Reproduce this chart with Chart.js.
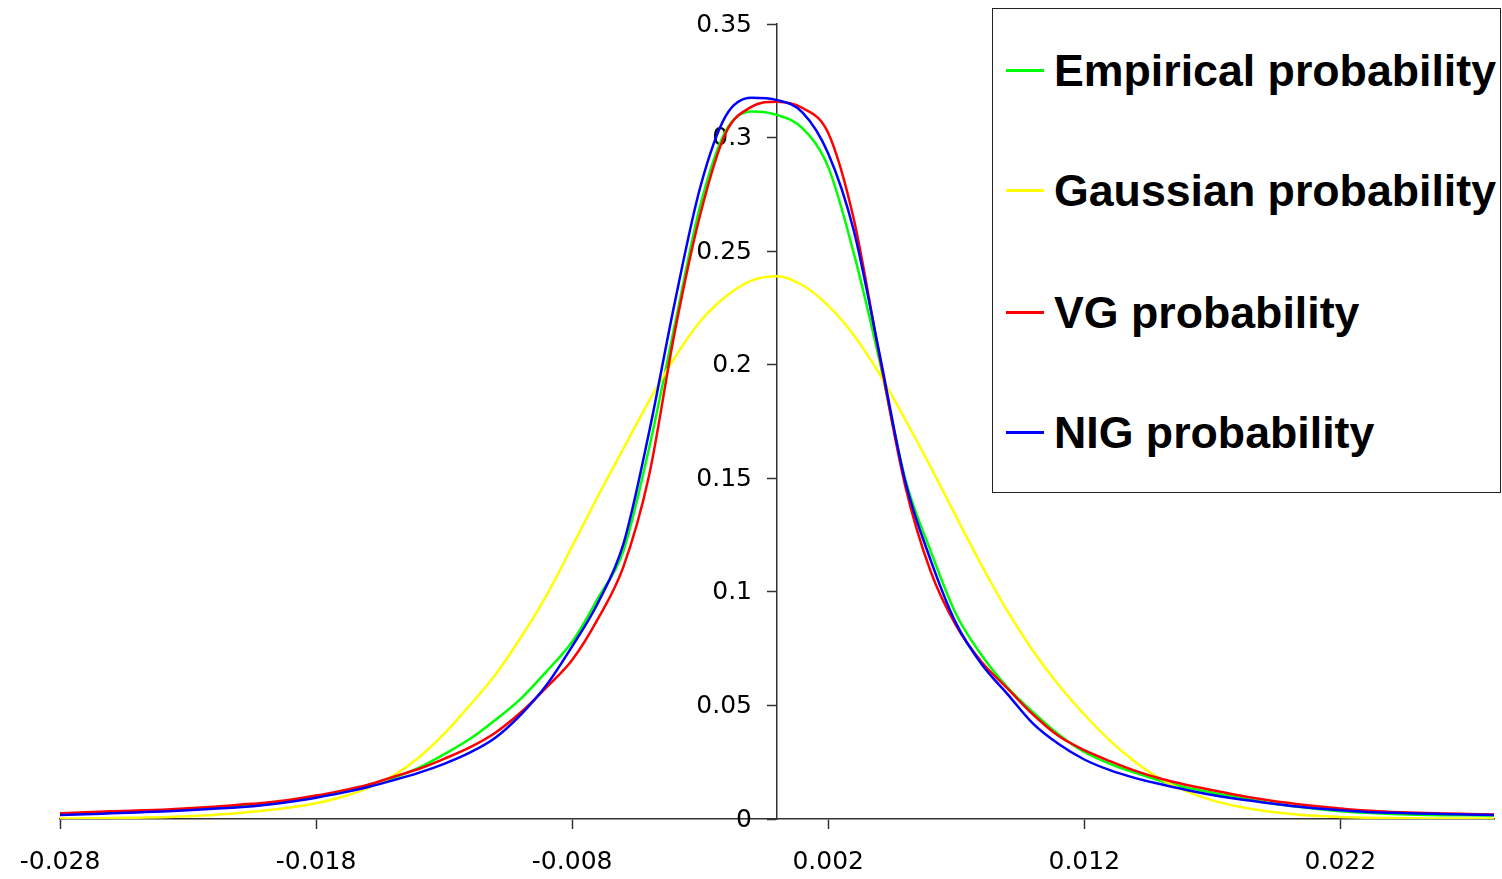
<!DOCTYPE html>
<html lang="en">
<head>
    <meta charset="UTF-8">
    <title>Probability densities</title>
    <script src="https://cdn.jsdelivr.net/npm/chart.js@4.4.1/dist/chart.umd.min.js"></script>
    <style>
        html, body { margin: 0; padding: 0; background: #fff; }
        #wrap { position: relative; width: 1502px; height: 879px; }
        #legend {
            position: absolute; left: 992px; top: 8px; width: 507px; height: 483px;
            border: 1px solid #222; background: #fff; box-sizing: content-box;
        }
        #legend .swatch { position: absolute; left: 13px; width: 38px; height: 2.5px; }
        #legend .label {
            position: absolute; left: 61px; white-space: nowrap;
            font: bold 44.7px "Liberation Sans", Arial, sans-serif; line-height: 44px; color: #000;
        }
    </style>
</head>
<body>
<div id="wrap">
    <canvas id="chart"></canvas>
    <div id="legend"></div>
</div>
<script>
    // x grid (returns)
    const xValues = [
        -0.028, -0.027, -0.026, -0.025, -0.024, -0.023, -0.022, -0.021, -0.020, -0.019,
        -0.018, -0.017, -0.016, -0.015, -0.014, -0.013, -0.012, -0.011, -0.010, -0.009,
        -0.008, -0.007, -0.006, -0.005, -0.004, -0.003, -0.002, -0.001, 0.000, 0.001,
        0.002, 0.003, 0.004, 0.005, 0.006, 0.007, 0.008, 0.009, 0.010, 0.011,
        0.012, 0.013, 0.014, 0.015, 0.016, 0.017, 0.018, 0.019, 0.020, 0.021,
        0.022, 0.023, 0.024, 0.025, 0.026, 0.027, 0.028
    ];

    const empirical = [
        0.0020, 0.0025, 0.0030, 0.0033, 0.0037, 0.0042, 0.0050, 0.0057, 0.0067, 0.0080,
        0.0097, 0.0120, 0.0146, 0.0180, 0.0225, 0.0285, 0.0352, 0.0436, 0.0530, 0.0650,
        0.0780, 0.0970, 0.1180, 0.1630, 0.2170, 0.2700, 0.3030, 0.3115, 0.3100, 0.3040,
        0.2870, 0.2490, 0.2020, 0.1500, 0.1180, 0.0900, 0.0720, 0.0580, 0.0470, 0.0372,
        0.0295, 0.0243, 0.0203, 0.0167, 0.0138, 0.0116, 0.0095, 0.0075, 0.0058, 0.0045,
        0.0034, 0.0027, 0.0022, 0.0019, 0.0017, 0.0016, 0.0015
    ];

    const gaussian = [
        0.0002, 0.0003, 0.0004, 0.0006, 0.0008, 0.0012, 0.0018, 0.0026, 0.0037, 0.0051,
        0.0069, 0.0097, 0.0135, 0.0190, 0.0270, 0.0375, 0.0500, 0.0635, 0.0800, 0.0985,
        0.1200, 0.1420, 0.1630, 0.1840, 0.2030, 0.2190, 0.2300, 0.2370, 0.2390, 0.2350,
        0.2260, 0.2130, 0.1960, 0.1760, 0.1550, 0.1330, 0.1115, 0.0915, 0.0740, 0.0590,
        0.0460, 0.0345, 0.0250, 0.0175, 0.0122, 0.0082, 0.0055, 0.0036, 0.0023, 0.0014,
        0.0009, 0.0006, 0.0004, 0.0003, 0.0002, 0.0002, 0.0002
    ];

    const vg = [
        0.0025, 0.0030, 0.0034, 0.0037, 0.0041, 0.0047, 0.0054, 0.0063, 0.0072, 0.0085,
        0.0103, 0.0125, 0.0150, 0.0185, 0.0220, 0.0265, 0.0315, 0.0380, 0.0470, 0.0580,
        0.0700, 0.0880, 0.1110, 0.1510, 0.2140, 0.2660, 0.3020, 0.3135, 0.3158, 0.3130,
        0.3020, 0.2640, 0.2040, 0.1470, 0.1090, 0.0850, 0.0690, 0.0575, 0.0460, 0.0365,
        0.0303, 0.0255, 0.0212, 0.0177, 0.0150, 0.0127, 0.0105, 0.0086, 0.0070, 0.0057,
        0.0046, 0.0037, 0.0031, 0.0027, 0.0024, 0.0022, 0.0020
    ];

    const nig = [
        0.0018, 0.0021, 0.0025, 0.0029, 0.0033, 0.0038, 0.0045, 0.0052, 0.0062, 0.0076,
        0.0094, 0.0115, 0.0140, 0.0170, 0.0203, 0.0243, 0.0292, 0.0358, 0.0460, 0.0590,
        0.0760, 0.0950, 0.1210, 0.1700, 0.2270, 0.2780, 0.3095, 0.3175, 0.3165, 0.3110,
        0.2930, 0.2590, 0.2050, 0.1490, 0.1140, 0.0860, 0.0680, 0.0550, 0.0420, 0.0330,
        0.0262, 0.0215, 0.0180, 0.0153, 0.0128, 0.0106, 0.0088, 0.0073, 0.0058, 0.0047,
        0.0038, 0.0031, 0.0027, 0.0024, 0.0022, 0.0020, 0.0018
    ];

    const seriesNames = ['Empirical probability', 'Gaussian probability', 'VG probability', 'NIG probability'];
    const seriesColors = ['#00ff00', '#ffff00', '#ff0000', '#0000ff'];
    const seriesValues = [empirical, gaussian, vg, nig];

    const xTickValues = [-0.028, -0.018, -0.008, 0.002, 0.012, 0.022];
    const xTickLabels = ['-0.028', '-0.018', '-0.008', '0.002', '0.012', '0.022'];
    const yTickValues = [0, 0.05, 0.1, 0.15, 0.2, 0.25, 0.3, 0.35];
    const yTickLabels = ['0', '0.05', '0.1', '0.15', '0.2', '0.25', '0.3', '0.35'];

    const axisColor = '#333';
    const tickFont = { family: '"DejaVu Sans", sans-serif', size: 25 };

    // y labels sit left of the axis that crosses at x = 0, drawn under the curves
    const yLabelPlugin = {
        id: 'yLabels',
        beforeDatasetsDraw(chart) {
            const { ctx, scales } = chart;
            const x0 = scales.x.getPixelForValue(0);
            ctx.save();
            ctx.font = '25px "DejaVu Sans", sans-serif';
            ctx.fillStyle = '#000';
            ctx.textAlign = 'right';
            ctx.textBaseline = 'middle';
            yTickValues.forEach((v, i) => {
                ctx.fillText(yTickLabels[i], x0 - 25, scales.y.getPixelForValue(v) + 1);
            });
            ctx.restore();
        }
    };

    const datasets = seriesNames.map((name, i) => ({
        label: name,
        data: xValues.map((x, j) => ({ x: x, y: seriesValues[i][j] })),
        borderColor: seriesColors[i],
        backgroundColor: seriesColors[i],
        borderWidth: 2.5,
        pointRadius: 0,
        fill: false,
        cubicInterpolationMode: 'monotone',
        order: seriesNames.length - i
    }));

    new Chart(document.getElementById('chart'), {
        type: 'line',
        data: { datasets: datasets },
        options: {
            responsive: true,
            maintainAspectRatio: false,
            animation: false,
            layout: { padding: { left: 60, right: 8, top: 24, bottom: 0 } },
            plugins: {
                legend: { display: false },
                tooltip: { enabled: false }
            },
            scales: {
                x: {
                    type: 'linear',
                    min: -0.028,
                    max: 0.028,
                    afterBuildTicks: (scale) => {
                        scale.ticks = xTickValues.map(v => ({ value: v }));
                    },
                    afterFit: (scale) => { scale.height = 60; },
                    ticks: {
                        autoSkip: false,
                        maxRotation: 0,
                        padding: 18,
                        color: '#000',
                        font: tickFont,
                        callback: (value, index) => xTickLabels[index]
                    },
                    grid: {
                        drawOnChartArea: false,
                        drawTicks: true,
                        tickLength: 10,
                        tickColor: axisColor,
                        tickWidth: 1.5
                    },
                    border: { display: true, color: axisColor, width: 1.5 }
                },
                y: {
                    type: 'linear',
                    position: { x: 0 },
                    min: 0,
                    max: 0.35,
                    afterBuildTicks: (scale) => {
                        scale.ticks = yTickValues.map(v => ({ value: v }));
                    },
                    ticks: { display: false },
                    grid: {
                        drawOnChartArea: false,
                        drawTicks: true,
                        tickLength: 9,
                        tickColor: axisColor,
                        tickWidth: 1.5
                    },
                    border: { display: true, color: axisColor, width: 1.5 }
                }
            }
        },
        plugins: [yLabelPlugin]
    });

    // legend box in the top right corner
    const legend = document.getElementById('legend');
    const rowCenters = [61.7, 181.7, 303.3, 423.7];
    seriesNames.forEach((name, i) => {
        const sw = document.createElement('div');
        sw.className = 'swatch';
        sw.style.top = (rowCenters[i] - 1.25) + 'px';
        sw.style.background = seriesColors[i];
        legend.appendChild(sw);
        const lb = document.createElement('div');
        lb.className = 'label';
        lb.style.top = (rowCenters[i] - 21.5) + 'px';
        lb.textContent = name;
        legend.appendChild(lb);
    });
</script>
</body>
</html>
